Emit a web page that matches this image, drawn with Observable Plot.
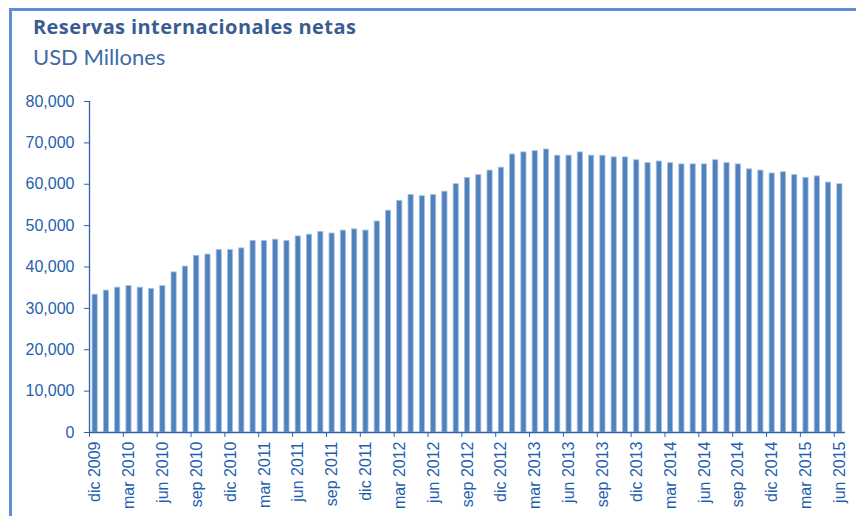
<!DOCTYPE html>
<html>
<head>
<meta charset="utf-8">
<script src="https://cdn.jsdelivr.net/npm/d3@7"></script>
<script src="https://cdn.jsdelivr.net/npm/@observablehq/plot@0.6"></script>
<style>
  html, body { margin: 0; padding: 0; background: #fff; }
  body { width: 856px; height: 516px; position: relative; overflow: hidden; }
  #border { position: absolute; left: 9px; top: 8px; width: 900px; height: 600px;
    border-left: 3px solid #5F8FD6; border-top: 3px solid #5F8FD6; box-sizing: border-box; }
  #title { position: absolute; left: 33px; top: 15px; font: bold 20px "Open Sans", Lato, sans-serif;
    letter-spacing: 0.4px; color: #3A5C94; line-height: 24px; white-space: nowrap; }
  #subtitle { position: absolute; left: 33px; top: 44px; font: 22px Lato, "Open Sans", sans-serif;
    color: #3E6AA8; line-height: 26px; white-space: nowrap; }
  #chart { position: absolute; left: 0; top: 80px; }
</style>
</head>
<body>
<div id="border"></div>
<div id="title">Reservas internacionales netas</div>
<div id="subtitle">USD Millones</div>
<div id="chart"></div>
<script>
const months = [
  "dic 2009",
  "ene 2010","feb 2010","mar 2010","abr 2010","may 2010","jun 2010","jul 2010","ago 2010","sep 2010","oct 2010","nov 2010","dic 2010",
  "ene 2011","feb 2011","mar 2011","abr 2011","may 2011","jun 2011","jul 2011","ago 2011","sep 2011","oct 2011","nov 2011","dic 2011",
  "ene 2012","feb 2012","mar 2012","abr 2012","may 2012","jun 2012","jul 2012","ago 2012","sep 2012","oct 2012","nov 2012","dic 2012",
  "ene 2013","feb 2013","mar 2013","abr 2013","may 2013","jun 2013","jul 2013","ago 2013","sep 2013","oct 2013","nov 2013","dic 2013",
  "ene 2014","feb 2014","mar 2014","abr 2014","may 2014","jun 2014","jul 2014","ago 2014","sep 2014","oct 2014","nov 2014","dic 2014",
  "ene 2015","feb 2015","mar 2015","abr 2015","may 2015","jun 2015"
];
const reservas = [
  33300, 34300, 35000, 35400, 35000, 34700, 35400, 38700, 40100, 42700,
  43000, 44100, 44100, 44500, 46300, 46300, 46600, 46300, 47400, 47800,
  48500, 48100, 48800, 49100, 48800, 51000, 53600, 56000, 57400, 57100,
  57400, 58200, 60000, 61500, 62200, 63300, 64000, 67200, 67700, 68000,
  68400, 66900, 66900, 67700, 66900, 66900, 66500, 66500, 65800, 65100,
  65500, 65100, 64800, 64800, 64800, 65800, 65100, 64800, 63600, 63300,
  62600, 62900, 62200, 61500, 61900, 60400, 60000
];
const xTickLabels = [
  "dic 2009","mar 2010","jun 2010","sep 2010","dic 2010","mar 2011","jun 2011","sep 2011",
  "dic 2011","mar 2012","jun 2012","sep 2012","dic 2012","mar 2013","jun 2013","sep 2013",
  "dic 2013","mar 2014","jun 2014","sep 2014","dic 2014","mar 2015","jun 2015"
];
const yTicks = [0, 10000, 20000, 30000, 40000, 50000, 60000, 70000, 80000];

const data = months.map((m, i) => ({month: m, value: reservas[i]}));

const W = 856, H = 436, ML = 89, MR = 11;
const step = (W - ML - MR) / months.length;
const axisColor = "#2F62AE";
const labelColor = "#1F5FAF";

const chart = Plot.plot({
  width: W,
  height: H,
  marginLeft: ML,
  marginRight: MR,
  marginTop: 21,
  marginBottom: 84,
  style: {fontFamily: "'Liberation Sans', Arial, sans-serif", background: "transparent"},
  x: {type: "band", domain: months, paddingInner: 0.54, paddingOuter: 0.27, round: false, label: null},
  y: {domain: [0, 80000], label: null},
  marks: [
    Plot.barY(data, {x: "month", y: "value", fill: "#4F81BD", stroke: "#A9C1E3", strokeWidth: 0.8}),
    Plot.ruleY([0], {stroke: axisColor, strokeWidth: 1.3}),
    Plot.ruleX([months[0]], {y1: 0, y2: 80000, dx: -step / 2, stroke: axisColor, strokeWidth: 1.3}),
    Plot.axisY(yTicks, {tickSize: 5, tickPadding: 10, tickFormat: d3.format(","), fontSize: 16,
      stroke: axisColor, fill: labelColor, label: null}),
    Plot.axisX(xTickLabels, {tickSize: 5, tickFormat: () => "", dx: -step / 2, stroke: axisColor, label: null}),
    Plot.axisX(xTickLabels, {tickSize: 0, tickPadding: 9, tickRotate: -90, fontSize: 16,
      fill: labelColor, label: null})
  ]
});
document.getElementById("chart").appendChild(chart);
</script>
</body>
</html>
